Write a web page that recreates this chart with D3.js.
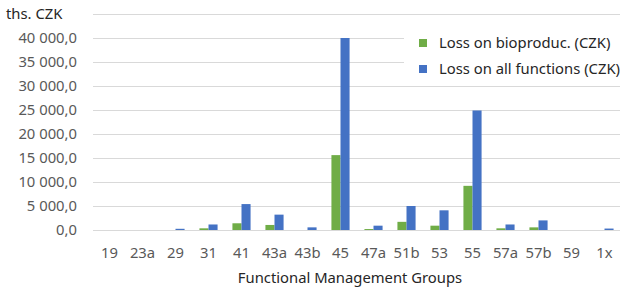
<!DOCTYPE html>
<html>
<head>
<meta charset="utf-8">
<script src="https://cdn.jsdelivr.net/npm/d3@7"></script>
<style>
  body { margin: 0; background: #fff; }
  svg text { font-family: "Noto Sans", sans-serif; }
</style>
</head>
<body>
<svg id="chart" width="620" height="288"></svg>
<script>
const categories = ["19", "23a", "29", "31", "41", "43a", "43b", "45", "47a", "51b", "53", "55", "57a", "57b", "59", "1x"];
// thousands of CZK
const lossBioproduction = [0, 0, 0, 350, 1400, 1050, 0, 15600, 200, 1700, 900, 9200, 350, 550, 0, 0];
const lossAllFunctions = [0, 0, 250, 1150, 5400, 3200, 550, 40000, 900, 5000, 4100, 24900, 1150, 2000, 0, 300];
const yTicks = [0, 5000, 10000, 15000, 20000, 25000, 30000, 35000, 40000, 45000];
const seriesNames = ["Loss on bioproduc. (CZK)", "Loss on all functions (CZK)"];
const seriesColors = ["#70ad47", "#4472c4"];

const svg = d3.select("#chart");
const fontSize = 14.8;

const x = d3.scaleBand()
  .domain(categories)
  .range([93, 621])
  .paddingInner(0.45)
  .paddingOuter(0.225);

const x1 = d3.scaleBand()
  .domain([0, 1])
  .range([0, x.bandwidth()]);

const y = d3.scaleLinear()
  .domain([0, 45000])
  .range([230, 14]);

// number format like "40 000,0"
const fmt = v => d3.format(",.1f")(v).replace(/,/g, " ").replace(".", ",");

// gridlines
svg.append("g")
  .selectAll("line")
  .data(yTicks)
  .join("line")
  .attr("x1", 93)
  .attr("x2", 620)
  .attr("y1", d => Math.round(y(d)) + 0.5)
  .attr("y2", d => Math.round(y(d)) + 0.5)
  .attr("stroke", "#d9d9d9")
  .attr("stroke-width", 1);

// y labels (top one replaced by unit)
svg.append("g")
  .selectAll("text")
  .data(yTicks.filter(d => d < 45000))
  .join("text")
  .attr("x", 77)
  .attr("y", d => y(d) + 5)
  .attr("text-anchor", "end")
  .attr("font-size", fontSize)
  .attr("fill", "#595959")
  .text(fmt);

svg.append("text")
  .attr("x", 6)
  .attr("y", y(45000) + 5)
  .attr("font-size", fontSize)
  .attr("fill", "#262626")
  .text("ths. CZK");

// bars
const groups = svg.append("g")
  .selectAll("g")
  .data(categories)
  .join("g")
  .attr("transform", d => `translate(${x(d)},0)`);

groups.selectAll("rect")
  .data((d, i) => [lossBioproduction[i], lossAllFunctions[i]])
  .join("rect")
  .attr("x", (d, j) => x1(j))
  .attr("width", x1.bandwidth())
  .attr("y", d => y(d))
  .attr("height", d => y(0) - y(d))
  .attr("fill", (d, j) => seriesColors[j]);

// x labels
svg.append("g")
  .selectAll("text")
  .data(categories)
  .join("text")
  .attr("x", d => x(d) + x.bandwidth() / 2)
  .attr("y", 258)
  .attr("text-anchor", "middle")
  .attr("font-size", fontSize)
  .attr("fill", "#595959")
  .text(d => d);

svg.append("text")
  .attr("x", 350)
  .attr("y", 283)
  .attr("text-anchor", "middle")
  .attr("font-size", fontSize)
  .attr("fill", "#262626")
  .text("Functional Management Groups");

// legend
const legend = svg.append("g");
legend.append("rect")
  .attr("x", 404)
  .attr("y", 27)
  .attr("width", 216)
  .attr("height", 50)
  .attr("fill", "#fff");

const items = legend.selectAll("g")
  .data(seriesNames)
  .join("g")
  .attr("transform", (d, i) => `translate(423,${43 + i * 26})`);

items.append("rect")
  .attr("x", -4)
  .attr("y", -4)
  .attr("width", 8)
  .attr("height", 8)
  .attr("fill", (d, i) => seriesColors[i]);

items.append("text")
  .attr("x", 16)
  .attr("y", 5)
  .attr("font-size", fontSize)
  .attr("fill", "#262626")
  .text(d => d);
</script>
</body>
</html>
